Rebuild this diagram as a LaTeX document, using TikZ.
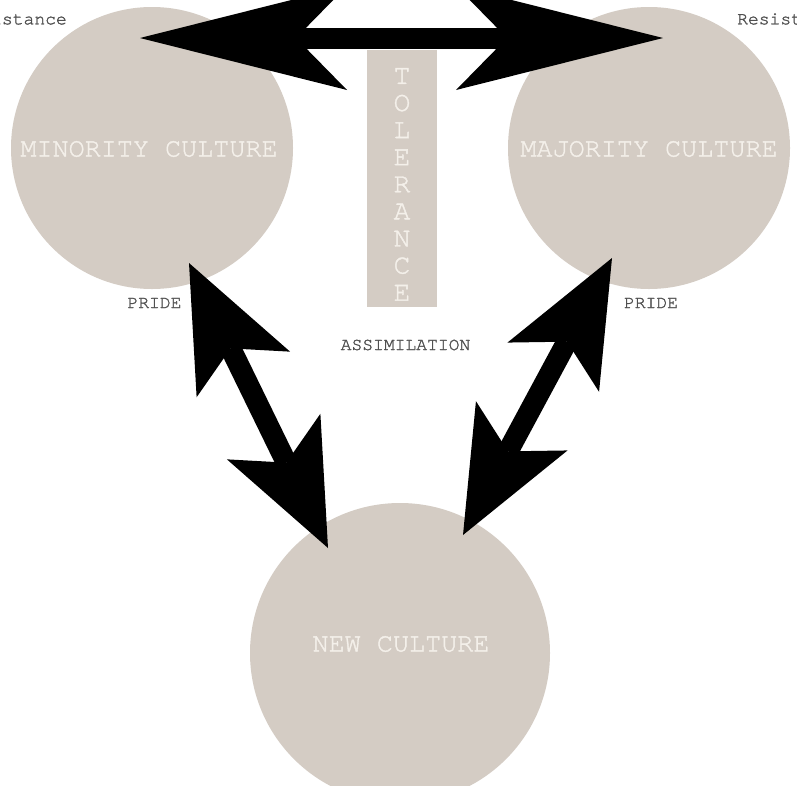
\documentclass[tikz,border=0pt]{standalone}
\usepackage{fontspec}
\newfontfamily\mono{TeX Gyre Cursor}[FakeBold=1.4]
\usetikzlibrary{arrows.meta}

\definecolor{culture}{RGB}{212,204,196}
\definecolor{paletext}{RGB}{244,240,234}
\definecolor{labelgray}{RGB}{80,80,80}

\tikzset{
  culturedisc/.style={circle, fill=culture, draw=none, inner sep=0pt, minimum size=#1},
  culturename/.style={text=paletext, font=\mono\fontsize{26.8}{30}\selectfont, inner sep=0pt},
  tolletter/.style={text=paletext, font=\mono\fontsize{28}{30}\selectfont, inner sep=0pt},
  sidelabel/.style={text=labelgray, font=\mono\fontsize{18}{20}\selectfont, inner sep=0pt},
  wideheads/.style={line width=21pt, black,
    {Stealth[length=207pt, width=104pt, inset=51pt, line width=0pt]}-{Stealth[length=207pt, width=104pt, inset=51pt, line width=0pt]}},
  slantheads/.style={line width=21pt, black,
    {Stealth[length=124pt, width=104pt, inset=29pt, line width=0pt]}-{Stealth[length=124pt, width=104pt, inset=29pt, line width=0pt]}}
}

\begin{document}
\begin{tikzpicture}[x=1pt, y=-1pt]
\path[use as bounding box] (0,0) rectangle (797,785);
\clip (0,0) rectangle (797,785);
\fill[white] (0,0) rectangle (797,785);

% the three cultures
\node[culturedisc=282pt] (minority) at (152,148) {};
\node[culturedisc=282pt] (majority) at (649,148) {};
\node[culturedisc=300pt] (newc) at (400,653) {};

\node[culturename] (minlabel) at (149,149) {MINORITY CULTURE};
\node[culturename] (majlabel) at (649,149) {MAJORITY CULTURE};
\node[culturename] (newlabel) at (401,644) {NEW CULTURE};

% tolerance bar with its stacked letters
\node[fill=culture, minimum width=70pt, minimum height=257pt, inner sep=0pt] (tolbox) at (402,178.5) {};
\foreach \ch [count=\i] in {T,O,L,E,R,A,N,C,E}
  \node[tolletter] (tol\i) at (402,{76+27.1*(\i-1)}) {\ch};

% side labels
\node[sidelabel, anchor=east] (resleft) at (67,19) {Resistance};
\node[sidelabel, anchor=west] (resright) at (737,19) {Resistance};
\node[sidelabel] (prideleft) at (154.5,303) {PRIDE};
\node[sidelabel] (prideright) at (651,303) {PRIDE};
\node[sidelabel] (assim) at (405.5,345) {ASSIMILATION};

% arrow tips
\coordinate (topL) at (140,38);
\coordinate (topR) at (663,38);
\coordinate (minTip) at (189,263);
\coordinate (newTipL) at (328,548);
\coordinate (majTip) at (612,258);
\coordinate (newTipR) at (463,535);

% double arrows
\draw[wideheads] (topL) -- (topR);
\draw[slantheads] (minTip) -- (newTipL);
\draw[slantheads] (majTip) -- (newTipR);
\end{tikzpicture}
\end{document}
